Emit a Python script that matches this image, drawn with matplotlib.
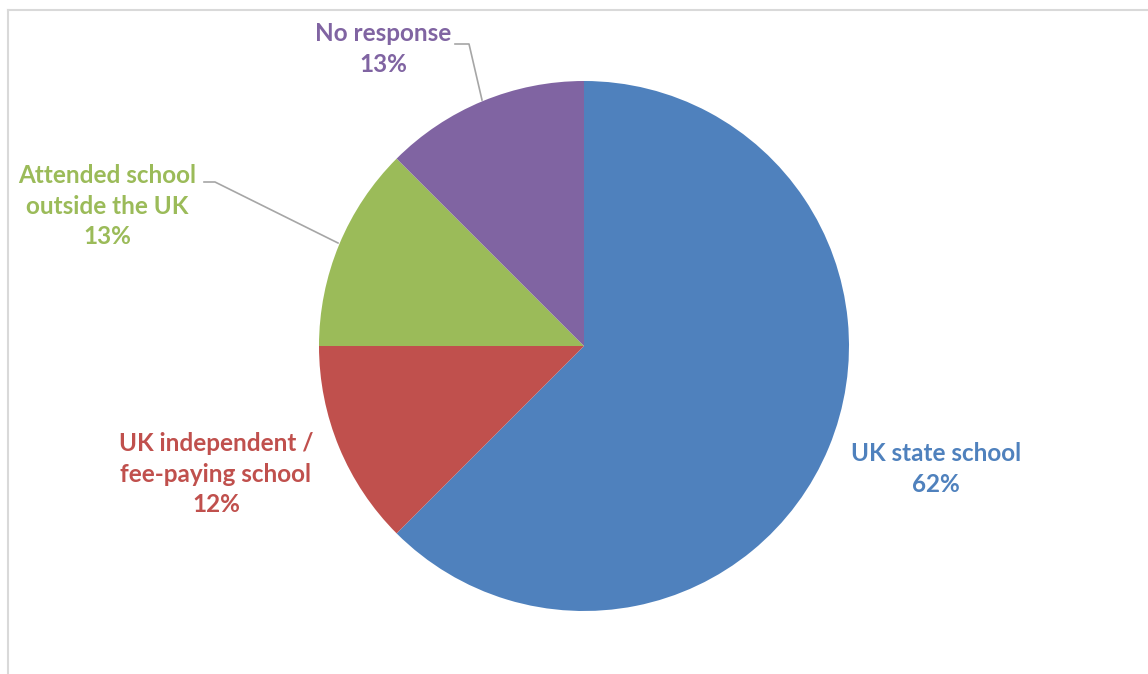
import matplotlib.pyplot as plt
from matplotlib.lines import Line2D

# Share of respondents by school type (slices clockwise from 12 o'clock)
categories = ["UK state school", "UK independent /\nfee-paying school",
              "Attended school\noutside the UK", "No response"]
shares = [62.5, 12.5, 12.5, 12.5]
pct_labels = ["62%", "12%", "13%", "13%"]
colors = ["#4F81BD", "#C0504D", "#9BBB59", "#8064A2"]

W, H = 1148, 674
fig = plt.figure(figsize=(W / 100, H / 100), dpi=100)
ax = fig.add_axes([0, 0, 1, 1])

cx, cy, r = 584, H - 346, 265
ax.pie(shares, colors=colors, startangle=90, counterclock=False,
       center=(cx, cy), radius=r, wedgeprops=dict(linewidth=0))
ax.set_xlim(0, W)
ax.set_ylim(0, H)
ax.set_aspect("equal")
ax.axis("off")

# label placements in pixel coords (x centre, y of first line from top)
label_pos = [(936, 452), (216, 442), (107, 174), (383, 32)]
for cat, pct, col, (lx, ly) in zip(categories, pct_labels, colors, label_pos):
    ax.text(lx, H - ly + 10, f"{cat}\n{pct}", color=col, ha="center", va="top",
            fontsize=17.5, fontweight="bold", family="Lato", linespacing=1.4)

# leader lines
lead = "#A6A6A6"
ax.plot([455, 469, 482], [H - 44, H - 44, H - 100], color=lead, lw=1.2)
ax.plot([204, 215, 338], [H - 182, H - 182, H - 243], color=lead, lw=1.2)

# chart area border (cropped on the right and bottom)
fig.add_artist(Line2D([8 / W, 8 / W], [0, 1 - 10 / H], color="#D9D9D9", lw=1.5))
fig.add_artist(Line2D([8 / W, 1], [1 - 10 / H, 1 - 10 / H], color="#D9D9D9", lw=1.5))

fig.savefig("out.png", dpi=100)
